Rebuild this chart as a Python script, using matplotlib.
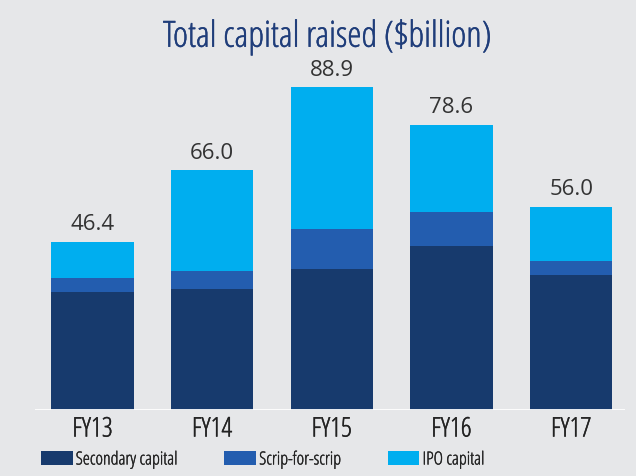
import matplotlib.pyplot as plt
import matplotlib.patheffects as pe
import numpy as np

# data
years = ["FY13", "FY14", "FY15", "FY16", "FY17"]
secondary = [32.4, 33.3, 38.8, 45.1, 37.1]
scrip = [3.9, 5.0, 11.0, 9.4, 3.9]
ipo = [10.1, 27.7, 39.1, 24.1, 15.0]
totals = [46.4, 66.0, 88.9, 78.6, 56.0]

bg = "#e6e7e9"
plt.rcParams["font.family"] = ["Open Sans", "DejaVu Sans"]
plt.rcParams["font.stretch"] = "condensed"

fig = plt.figure(figsize=(6.36, 4.77), dpi=100, facecolor=bg)
ax = fig.add_axes([35 / 636, 66 / 477, 590 / 636, 351 / 477], facecolor=bg)

x = np.arange(len(years))
w = 0.69
sec = np.array(secondary)
scr = np.array(scrip)
ax.bar(x, sec, w, color="#173a6d", label="Secondary capital", zorder=2)
ax.bar(x, scr, w, bottom=sec, color="#235daf", label="Scrip-for-scrip", zorder=2)
ax.bar(x, ipo, w, bottom=sec + scr, color="#00aeef", label="IPO capital", zorder=2)

# totals above bars
for xi, t in zip(x, totals):
    ax.text(xi, t + 2.0, f"{t:.1f}", ha="center", va="bottom", fontsize=16,
            fontstretch="normal", color="#333333")

ax.axhline(0, color="white", lw=2, zorder=3)
ax.set_xlim(-0.48, 4.45)
ax.set_ylim(0, 96.7)
ax.set_xticks(x)
ax.set_xticklabels(years, fontsize=19.5, color="#222222")
for lab in ax.get_xticklabels():
    lab.set_path_effects([pe.withStroke(linewidth=0.3, foreground="#222222")])
ax.tick_params(axis="x", length=0, pad=4)
ax.set_yticks([])
for s in ax.spines.values():
    s.set_visible(False)

fig.text(327 / 636, 1 - 38 / 477, "Total capital raised ($billion)", ha="center", va="center",
         fontsize=26, color="#1f3d7a",
         path_effects=[pe.withStroke(linewidth=0.3, foreground="#1f3d7a")])

leg = fig.legend(loc="center left", bbox_to_anchor=(41 / 636, 16.5 / 477), ncol=3,
                 frameon=False, fontsize=13, handlelength=1.75, handleheight=0.83,
                 handletextpad=0.17, columnspacing=2.6, borderpad=0, borderaxespad=0,
                 labelcolor="#222222")
for t in leg.get_texts():
    t.set_path_effects([pe.withStroke(linewidth=0.25, foreground="#222222")])

fig.savefig("out.png", dpi=100, facecolor=bg)
